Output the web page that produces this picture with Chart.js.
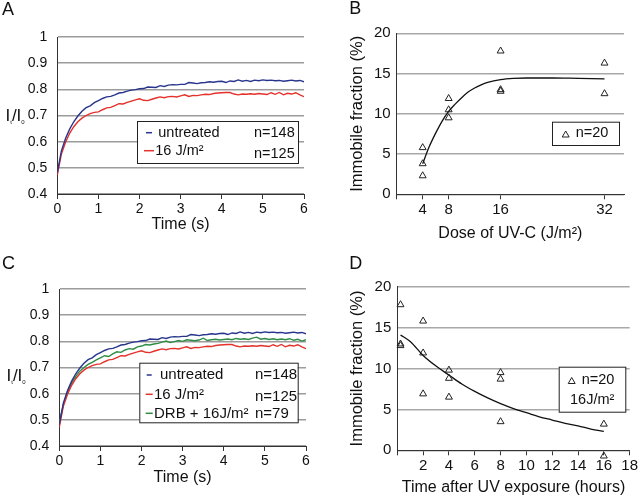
<!DOCTYPE html>
<html><head><meta charset="utf-8">
<script src="https://cdn.jsdelivr.net/npm/chart.js@4/dist/chart.umd.min.js"></script>
<style>
html,body{margin:0;padding:0;background:#fff;}
#wrap{position:relative;width:640px;height:500px;background:#fff;}
canvas{position:absolute;}
</style></head><body>
<div id="wrap">
<canvas id="cA" width="320" height="250" style="left:0;top:0"></canvas>
<canvas id="cB" width="320" height="250" style="left:320px;top:0"></canvas>
<canvas id="cC" width="320" height="250" style="left:0;top:250px"></canvas>
<canvas id="cD" width="320" height="250" style="left:320px;top:250px"></canvas>
</div>
<script>
// ---------- DATA ----------
const timeS = [0,0.1,0.2,0.3,0.4,0.5,0.6,0.7,0.8,0.9,1,1.1,1.2,1.3,1.4,1.5,1.6,1.7,1.8,1.9,2,2.1,2.2,2.3,2.4,2.5,2.6,2.7,2.8,2.9,3,3.1,3.2,3.3,3.4,3.5,3.6,3.7,3.8,3.9,4,4.1,4.2,4.3,4.4,4.5,4.6,4.7,4.8,4.9,5,5.1,5.2,5.3,5.4,5.5,5.6,5.7,5.8,5.9,6];
const untreated = [
0.482,0.565,0.612,0.648,0.676,0.698,0.716,0.730,0.737,0.749,
0.757,0.765,0.771,0.773,0.779,0.786,0.788,0.793,0.797,0.799,
0.802,0.803,0.809,0.808,0.807,0.814,0.811,0.816,0.818,0.817,
0.819,0.819,0.826,0.824,0.822,0.825,0.826,0.829,0.827,0.830,
0.831,0.826,0.832,0.830,0.836,0.831,0.834,0.830,0.835,0.833,
0.836,0.834,0.835,0.833,0.834,0.831,0.833,0.835,0.832,0.834,
0.829];
const uv16 = [
0.472,0.553,0.598,0.632,0.657,0.676,0.690,0.700,0.707,0.712,
0.714,0.722,0.729,0.731,0.738,0.745,0.744,0.750,0.755,0.760,
0.764,0.758,0.757,0.762,0.767,0.771,0.768,0.772,0.773,0.771,
0.775,0.779,0.773,0.777,0.776,0.779,0.781,0.780,0.784,0.786,
0.787,0.788,0.788,0.782,0.779,0.782,0.781,0.783,0.781,0.784,
0.782,0.780,0.787,0.781,0.788,0.779,0.785,0.782,0.787,0.779,
0.772];
const drbUv16 = [
0.490,0.560,0.606,0.640,0.666,0.686,0.700,0.712,0.720,0.729,
0.737,0.745,0.742,0.752,0.760,0.758,0.767,0.772,0.770,0.779,
0.782,0.788,0.786,0.790,0.792,0.797,0.801,0.795,0.799,0.803,
0.800,0.806,0.804,0.802,0.805,0.812,0.803,0.806,0.808,0.805,
0.807,0.809,0.806,0.811,0.808,0.810,0.807,0.812,0.816,0.808,
0.811,0.807,0.810,0.806,0.809,0.806,0.810,0.804,0.808,0.801,
0.806];
const seriesNames = ['untreated', '16 J/m\u00B2', 'DRB + 16J/m\u00B2'];
const seriesN = ['n=148', 'n=125', 'n=79'];
const timeTicks = [0,1,2,3,4,5,6];
const ratioTicks = [0.4,0.5,0.6,0.7,0.8,0.9,1];

const doseX = [4,4,4,8,8,8,16,16,16,32,32];
const doseY = [5.8,3.8,2.3,11.9,10.5,9.5,17.8,13.0,12.8,16.3,12.5];
const doseFitX = [4,5,6,7,8,9,10,11,12,13,14,16,18,20,24,28,32];
const doseFitY = [3.8,5.9,7.6,9.1,10.3,11.2,12.0,12.7,13.2,13.6,13.9,14.25,14.4,14.45,14.45,14.4,14.35];
const doseTicks = [0,4,8,16,32];

const hoursX = [0.25,0.25,0.25,2,2,2,4,4,4,8,8,8,16,16];
const hoursY = [17.8,13.0,12.8,15.8,11.9,6.9,9.8,8.8,6.5,9.5,8.7,3.5,3.2,-0.7];
const hoursFitX = [0.25,1,2,3,4,5,6,7,8,9,10,11,12,13,14,15,16];
const hoursFitY = [14.1,13.3,11.6,10.3,9.2,8.1,7.2,6.4,5.7,5.1,4.6,4.1,3.7,3.3,3.0,2.6,2.3];
const hourTicks = [0,2,4,6,8,10,12,14,16,18];
const immTicks = [0,5,10,15,20];
const legendScatter = ['n=20', '16J/m\u00B2'];

// ---------- STYLE ----------
const FONT = "'Liberation Sans', Arial, Helvetica, sans-serif";
const BLUE = '#27358c', RED = '#e4312b', GREEN = '#2e8c45';
const TXT = '#111', AXIS = '#333', GRID = '#9c9c9c';
Chart.defaults.font.family = FONT;
Chart.defaults.color = TXT;

const xy = (xs, ys) => xs.map((x, i) => ({x: x, y: ys[i]}));
const setTicks = arr => (s => { s.ticks = arr.map(v => ({value: v})); });

function lineDs(label, data, color) {
  return {label, data: xy(timeS, data), borderColor: color, borderWidth: 1.4, pointRadius: 0, tension: 0, fill: false};
}

function drawText(ctx, t, x, y, size, align, base) {
  ctx.font = size + 'px ' + FONT;
  ctx.textAlign = align || 'left';
  ctx.textBaseline = base || 'middle';
  ctx.fillText(t, x, y);
}
function drawRatioLabel(ctx, x, baseY) {
  ctx.fillStyle = TXT;
  ctx.textAlign = 'left'; ctx.textBaseline = 'alphabetic';
  ctx.font = '17px ' + FONT; ctx.fillText('I', x, baseY); let cx = x + ctx.measureText('I').width;
  ctx.font = '6px ' + FONT; ctx.fillText('t', cx, baseY + 3); cx += ctx.measureText('t').width;
  ctx.font = '17px ' + FONT; ctx.fillText('/', cx, baseY); cx += ctx.measureText('/').width;
  ctx.fillText('I', cx, baseY); cx += ctx.measureText('I').width;
  ctx.font = '6px ' + FONT; ctx.fillText('0', cx, baseY + 3);
}
function drawBox(ctx, x, y, w, h) {
  ctx.fillStyle = '#fff'; ctx.fillRect(x, y, w, h);
  ctx.strokeStyle = '#222'; ctx.lineWidth = 1; ctx.strokeRect(x + 0.5, y + 0.5, w, h);
}
function dash(ctx, x1, x2, y, color) {
  ctx.strokeStyle = color; ctx.lineWidth = 1.5;
  ctx.beginPath(); ctx.moveTo(x1, y); ctx.lineTo(x2, y); ctx.stroke();
}
function tri(ctx, x, y, r) {
  ctx.strokeStyle = '#222'; ctx.lineWidth = 1;
  ctx.beginPath();
  ctx.moveTo(x, y - r); ctx.lineTo(x + r * 0.866, y + r * 0.5); ctx.lineTo(x - r * 0.866, y + r * 0.5); ctx.closePath();
  ctx.stroke();
}

// draws scatter points that Chart.js skips because they lie outside the chart area
const outsidePoints = {id: 'outsidePoints', afterDatasetsDraw(chart) {
  const a = chart.chartArea, ctx = chart.ctx;
  chart.data.datasets.forEach((ds, i) => {
    if (ds.type !== 'scatter') return;
    chart.getDatasetMeta(i).data.forEach(el => {
      if (el.y > a.bottom + 1 || el.y < a.top - 1) {
        ctx.save();
        ctx.strokeStyle = '#222'; ctx.lineWidth = 1; ctx.fillStyle = 'rgba(255,255,255,0)';
        Chart.helpers.drawPoint(ctx, {pointStyle: 'triangle', radius: 4, borderWidth: 1, rotation: 0}, el.x, el.y);
        ctx.restore();
      }
    });
  });
}};

function timeScales(yWidth, xHeight, titlePad) {
  return {
    x: {type: 'linear', min: 0, max: 6, afterBuildTicks: setTicks(timeTicks),
        ticks: {font: {size: 14}, color: TXT, padding: 2, maxRotation: 0, callback: v => String(v)},
        grid: {drawOnChartArea: false, drawTicks: true, tickLength: 5, color: AXIS},
        border: {color: AXIS, width: 1},
        title: {display: true, text: 'Time (s)', font: {size: 16}, color: TXT, padding: {top: 0, bottom: titlePad}},
        afterFit: s => { s.height = xHeight; }},
    y: {type: 'linear', min: 0.4, max: 1, afterBuildTicks: setTicks(ratioTicks),
        ticks: {font: {size: 14}, color: TXT, padding: 10, callback: v => String(+(+v).toFixed(1))},
        grid: {drawTicks: false, color: GRID, lineWidth: 1.5},
        border: {color: AXIS, width: 1},
        afterFit: s => { s.width = yWidth; }}
  };
}
const baseOpts = {responsive: false, animation: false, events: [],
  plugins: {legend: {display: false}, tooltip: {enabled: false}}};

// ---------- PANEL A ----------
new Chart(document.getElementById('cA'), {
  type: 'line',
  data: {datasets: [lineDs(seriesNames[0], untreated, BLUE), lineDs(seriesNames[1], uv16, RED)]},
  options: Object.assign({}, baseOpts, {
    layout: {padding: {left: 0, top: 37, right: 16, bottom: 0}},
    scales: timeScales(57.3, 56, 16)
  }),
  plugins: [{id: 'decorA', afterDraw(chart) {
    const ctx = chart.ctx; ctx.save();
    ctx.fillStyle = TXT; drawText(ctx, 'A', 2, 15, 18, 'left', 'alphabetic');
    drawRatioLabel(ctx, 5.5, 120.7);
    drawBox(ctx, 137, 121, 161, 42);
    dash(ctx, 146, 152, 132.7, BLUE);
    dash(ctx, 144, 154, 150.7, RED);
    ctx.fillStyle = TXT;
    drawText(ctx, seriesNames[0], 158.3, 132.5, 14.5);
    drawText(ctx, seriesNames[1], 155.3, 150.7, 14.5);
    drawText(ctx, seriesN[0], 254, 132.5, 14.5);
    drawText(ctx, seriesN[1], 254, 153.7, 14.5);
    ctx.restore();
  }}]
});

// ---------- PANEL C ----------
new Chart(document.getElementById('cC'), {
  type: 'line',
  data: {datasets: [lineDs(seriesNames[0], untreated, BLUE), lineDs(seriesNames[1], uv16, RED), lineDs(seriesNames[2], drbUv16, GREEN)]},
  options: Object.assign({}, baseOpts, {
    layout: {padding: {left: 0, top: 39, right: 14, bottom: 0}},
    scales: timeScales(59.3, 54, 13)
  }),
  plugins: [{id: 'decorC', afterDraw(chart) {
    const ctx = chart.ctx; ctx.save();
    ctx.fillStyle = TXT; drawText(ctx, 'C', 2, 19, 18, 'left', 'alphabetic');
    drawRatioLabel(ctx, 6.5, 130.7);
    drawBox(ctx, 139.3, 112.7, 158.4, 59.6);
    dash(ctx, 146.7, 151.7, 125, BLUE);
    dash(ctx, 145.7, 152.7, 144.3, RED);
    dash(ctx, 145.7, 152.7, 163.3, GREEN);
    ctx.fillStyle = TXT;
    drawText(ctx, seriesNames[0], 160, 124.5, 15);
    drawText(ctx, seriesNames[1], 154, 145, 15);
    drawText(ctx, seriesNames[2], 154, 163.7, 15);
    drawText(ctx, seriesN[0], 255, 124.5, 15);
    drawText(ctx, seriesN[1], 255, 146.7, 15);
    drawText(ctx, seriesN[2], 255, 163.7, 15);
    ctx.restore();
  }}]
});

// ---------- SCATTER PANELS ----------
function scatterChart(id, ptsX, ptsY, fitX, fitY, xMax, xTicks, xTitle, yW, xH, xTitlePad, padTop, padRight, decor) {
  return new Chart(document.getElementById(id), {
    type: 'scatter',
    data: {datasets: [
      {type: 'line', data: xy(fitX, fitY), borderColor: '#111', borderWidth: 1.3, pointRadius: 0, cubicInterpolationMode: 'monotone', fill: false, clip: false},
      {type: 'scatter', data: xy(ptsX, ptsY), pointStyle: 'triangle', pointRadius: 4, borderWidth: 1, borderColor: '#222', backgroundColor: 'rgba(255,255,255,0)', clip: false}
    ]},
    options: Object.assign({}, baseOpts, {
      layout: {padding: {left: 0, top: padTop, right: padRight, bottom: 0}},
      scales: {
        x: {type: 'linear', min: 0, max: xMax, afterBuildTicks: setTicks(xTicks),
            ticks: {font: {size: 15}, color: TXT, padding: 2, maxRotation: 0, callback: v => v === 0 ? '' : String(v)},
            grid: {drawOnChartArea: false, drawTicks: true, tickLength: 5, color: AXIS},
            border: {color: AXIS, width: 1},
            title: {display: true, text: xTitle, font: {size: 16}, color: TXT, padding: {top: 0, bottom: xTitlePad}},
            afterFit: s => { s.height = xH; }},
        y: {type: 'linear', min: 0, max: 20, afterBuildTicks: setTicks(immTicks),
            ticks: {font: {size: 15}, color: TXT, padding: 6, callback: v => String(v)},
            grid: {drawTicks: false, color: '#a8a8a8', lineWidth: 1.5},
            border: {color: AXIS, width: 1},
            title: {display: true, text: 'Immobile fraction (%)', font: {size: 16.5}, color: TXT, padding: {top: 28, bottom: 0}},
            afterFit: s => { s.width = yW; }}
      }
    }),
    plugins: [outsidePoints, {id: 'decor' + id, afterDraw: decor}]
  });
}

scatterChart('cB', doseX, doseY, doseFitX, doseFitY, 35, doseTicks, 'Dose of UV-C (J/m\u00B2)', 76.7, 55.7, 7, 33.3, 16, function(chart) {
  const ctx = chart.ctx; ctx.save();
  ctx.fillStyle = TXT; drawText(ctx, 'B', 29.3, 14.3, 18, 'left', 'alphabetic');
  drawBox(ctx, 232, 121.7, 67, 23.3);
  tri(ctx, 245.7, 135, 4);
  ctx.fillStyle = TXT; drawText(ctx, legendScatter[0], 255.7, 133.3, 14.5);
  ctx.restore();
});

scatterChart('cD', hoursX, hoursY, hoursFitX, hoursFitY, 18, hourTicks, 'Time after UV exposure (hours)', 77.3, 49.7, 3, 36.7, 9.3, function(chart) {
  const ctx = chart.ctx; ctx.save();
  ctx.fillStyle = TXT; drawText(ctx, 'D', 29.3, 19, 18, 'left', 'alphabetic');
  drawBox(ctx, 238.7, 116.7, 66.6, 45);
  tri(ctx, 251.7, 131.5, 4);
  ctx.fillStyle = TXT;
  drawText(ctx, legendScatter[0], 261.7, 130, 14.5);
  drawText(ctx, legendScatter[1], 250, 150, 14.5);
  ctx.restore();
});
</script>
</body></html>
